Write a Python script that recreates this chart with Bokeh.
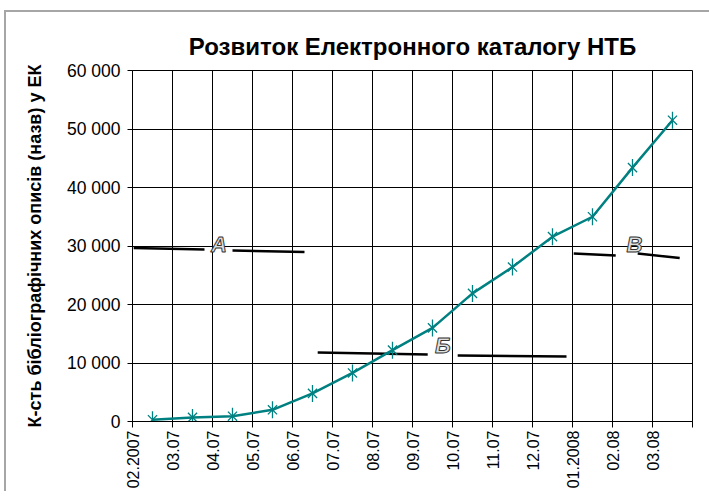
import numpy as np
from bokeh.plotting import figure
from bokeh.models import FixedTicker, Range1d, ColumnDataSource
from bokeh.core.properties import value
from bokeh.embed import file_html
from bokeh.resources import INLINE

# ---- data ----
months = ["02.2007", "03.07", "04.07", "05.07", "06.07", "07.07", "08.07",
          "09.07", "10.07", "11.07", "12.07", "01.2008", "02.08", "03.08"]
records = [300, 700, 900, 2000, 4800, 8300, 12200, 16000, 21900, 26400,
           31600, 35000, 43400, 51500]
y_ticks = [0, 10000, 20000, 30000, 40000, 50000, 60000]
y_tick_labels = ["0", "10 000", "20 000", "30 000", "40 000", "50 000", "60 000"]

# hand-drawn annotation segments (category units / record counts)
seg_x0 = [0.03, 2.5, 4.63, 8.13, 11.03, 12.63]
seg_x1 = [1.8, 4.3, 7.38, 10.85, 12.08, 13.68]
seg_y0 = [29650, 29230, 11800, 11280, 28720, 28720]
seg_y1 = [29400, 28970, 11450, 11110, 28380, 27930]
mark_text = ["А", "Б", "В"]
mark_x = [2.16, 7.76, 12.55]
mark_y = [30300, 12950, 30300]

TEAL = "#008080"
FONT = "Liberation Sans"

p = figure(width=705, height=481, output_backend="svg", toolbar_location=None,
           x_range=Range1d(0, 14), y_range=Range1d(0, 60000),
           min_border_left=128, min_border_right=17,
           min_border_top=60, min_border_bottom=70)
p.styles = {"position": "relative", "left": "4px", "top": "10px",
            "box-shadow": "inset 2px 2px 0 0 #a6a6a6"}
p.border_fill_color = None
p.background_fill_color = "white"
p.outline_line_color = "black"
p.outline_line_width = 1

p.title.text = "Розвиток Електронного каталогу НТБ"
p.title.text_font = FONT
p.title.text_font_size = "24px"
p.title.text_font_style = "bold"
p.title.align = "center"
p.title.text_color = "black"
p.title.standoff = 21
p.title.offset = 5

# x axis
xt = list(range(15))
p.xaxis.ticker = FixedTicker(ticks=xt)
p.xaxis.major_label_overrides = {i: (months[i] if i < len(months) else "") for i in xt}
p.xaxis.major_label_orientation = np.pi / 2
p.xaxis.major_label_text_font = FONT
p.xaxis.major_label_text_font_size = "16px"
p.xaxis.major_label_text_color = "black"
p.xaxis.major_tick_out = 6
p.xaxis.major_tick_in = 0
p.xaxis.minor_tick_line_color = None
p.xaxis.major_label_standoff = 3
p.xaxis.axis_line_color = "black"
p.xgrid.ticker = FixedTicker(ticks=xt)
p.xgrid.grid_line_color = "black"
p.xgrid.grid_line_width = 1

# y axis
p.yaxis.ticker = FixedTicker(ticks=y_ticks)
p.yaxis.major_label_overrides = {t: l for t, l in zip(y_ticks, y_tick_labels)}
p.yaxis.major_label_text_font = FONT
p.yaxis.major_label_text_font_size = "17.5px"
p.yaxis.major_label_text_color = "black"
p.yaxis.major_tick_out = 5
p.yaxis.major_tick_in = 0
p.yaxis.minor_tick_line_color = None
p.yaxis.major_label_standoff = 7
p.yaxis.axis_line_color = "black"
p.yaxis.axis_label = "К-сть бібліографічних описів (назв) у ЕК"
p.yaxis.axis_label_text_font = FONT
p.yaxis.axis_label_text_font_size = "18px"
p.yaxis.axis_label_text_font_style = "bold"
p.yaxis.axis_label_text_color = "black"
p.yaxis.axis_label_standoff = 19
p.ygrid.ticker = FixedTicker(ticks=y_ticks)
p.ygrid.grid_line_color = "black"
p.ygrid.grid_line_width = 1

# annotations
seg_src = ColumnDataSource(dict(x0=seg_x0, x1=seg_x1, y0=seg_y0, y1=seg_y1))
p.segment("x0", "y0", "x1", "y1", source=seg_src, line_color="black", line_width=2.5)
mk_src = ColumnDataSource(dict(x=mark_x, y=mark_y, t=mark_text))
p.text("x", "y", text="t", source=mk_src, text_font=value(FONT),
       text_font_size="22px", text_font_style="bold italic",
       text_align="center", text_baseline="middle",
       text_color="#e0e0e0", text_outline_color="#333333")

# data series
xs = np.arange(len(records)) + 0.5
src = ColumnDataSource(dict(x=xs, y=records))
p.line("x", "y", source=src, line_color=TEAL, line_width=2.5)
p.scatter("x", "y", source=src, marker="x", size=13, line_color=TEAL, line_width=1.3)
p.scatter("x", "y", source=src, marker="dash", angle=np.pi / 2, size=17,
          line_color=TEAL, line_width=1.3)

open("out.html", "w").write(file_html(p, INLINE))
